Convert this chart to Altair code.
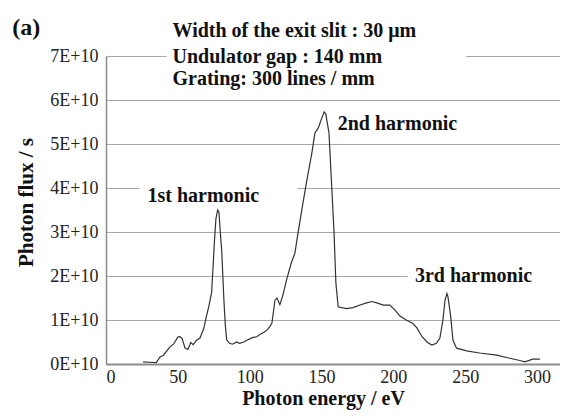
import altair as alt
import pandas as pd

# Photon energy (eV) and photon flux (units of 1E+10 photons/s)
energy = [25.8, 30, 35, 37.6, 40, 44.5, 47, 50, 51.5, 53, 55, 57, 59, 60.7, 63, 65.4,
          68, 70, 71.5, 73.5, 74.5, 75.5, 76.5, 77.7, 78.6, 80, 80.5, 82, 83, 84,
          86, 88, 91, 93, 96, 98, 102, 105, 107, 110, 112, 114, 115.5, 117.6, 119,
          121, 123, 126, 129, 131.5, 133.6, 137, 139.8, 143.3, 145.4, 147.7, 150.3,
          151.9, 153, 155.2, 157, 158.7, 160, 161.6, 164, 167.6, 172, 176.8, 181.4,
          185, 188.5, 193, 197.6, 201, 204.6, 209, 213.6, 216.4, 220, 223.4, 226.8,
          230, 232.4, 234.5, 236, 237.3, 238, 240, 241.5, 244, 251, 260, 272, 281,
          288, 291.6, 297, 302]
flux = [0.05, 0.04, 0.03, 0.16, 0.2, 0.39, 0.45, 0.61, 0.62, 0.58, 0.36, 0.33, 0.49, 0.44,
        0.54, 0.59, 0.8, 1.1, 1.3, 1.62, 2.2, 2.8, 3.3, 3.5, 3.45, 2.8, 2.6, 1.5, 0.9, 0.55,
        0.47, 0.45, 0.5, 0.47, 0.5, 0.54, 0.6, 0.62, 0.67, 0.72, 0.77, 0.85, 0.93, 1.45, 1.5,
        1.35, 1.55, 1.95, 2.3, 2.52, 2.97, 3.64, 4.18, 4.8, 5.25, 5.36, 5.6,
        5.73, 5.68, 5.25, 4.1, 3.0, 1.85, 1.3, 1.28, 1.26, 1.28, 1.34, 1.39,
        1.42, 1.39, 1.34, 1.34, 1.23, 1.09, 1.0, 0.92, 0.82, 0.62, 0.5, 0.43,
        0.47, 0.59, 1.0, 1.46, 1.6, 1.53, 1.06, 0.54, 0.36, 0.3, 0.25, 0.2, 0.13,
        0.08, 0.05, 0.11, 0.11]

x_ticks = [0, 50, 100, 150, 200, 250, 300]
y_ticks = [0, 1, 2, 3, 4, 5, 6, 7]

label_text = ["(a)", "Width of the exit slit : 30 \u03bcm", "Undulator gap : 140 mm",
              "Grating: 300 lines / mm", "1st harmonic", "2nd harmonic", "3rd harmonic"]
label_x = [-65.2, 46.3, 46.3, 46.3, 28.9, 161.3, 215]
label_y = [7.48, 7.43, 6.84, 6.34, 3.68, 5.32, 1.86]
label_size = [24, 20, 20, 20, 20, 20, 20]

# white boxes behind labels (hide grid lines, as in the original)
box_x = [42.2, 23.3, 210]
box_x2 = [250.5, 133.4, 316]
box_y = [6.9, 3.9, 1.9]
box_y2 = [7.1, 4.1, 2.1]

FONT = "Times New Roman, Liberation Serif, serif"

curve = pd.DataFrame({"energy": energy, "flux": flux})
labels = pd.DataFrame({"text": label_text, "x": label_x, "y": label_y, "size": label_size})
boxes = pd.DataFrame({"x": box_x, "x2": box_x2, "y": box_y, "y2": box_y2})

xscale = alt.Scale(domain=[0, 316], nice=False, zero=False)
yscale = alt.Scale(domain=[0, 7], nice=False)

xaxis = alt.Axis(values=x_ticks, grid=False, ticks=False, domainColor="#8c8c8c",
                 domainWidth=2, labelFont=FONT, labelFontSize=18, labelColor="#222",
                 labelPadding=4, title="Photon energy / eV", titleFont=FONT,
                 titleFontSize=20, titleFontWeight="bold", titleColor="#111",
                 titleX=217, titleY=40, titleBaseline="alphabetic", titleAlign="center")
yaxis = alt.Axis(values=y_ticks, grid=True, gridColor="#a8a8a8", gridWidth=1,
                 ticks=False, domainColor="#8c8c8c", domainWidth=1.5,
                 labelExpr="datum.value + 'E+10'", labelFont=FONT, labelFontSize=18,
                 labelColor="#222", labelPadding=8, title="Photon flux / s",
                 titleFont=FONT, titleFontSize=21, titleFontWeight="bold",
                 titleColor="#111", titleAngle=270, titleX=-74, titleY=146,
                 titleBaseline="alphabetic", titleAlign="center")

rects = alt.Chart(boxes).mark_rect(color="white").encode(
    x=alt.X("x:Q", scale=xscale, axis=xaxis),
    x2="x2:Q",
    y=alt.Y("y:Q", scale=yscale, axis=yaxis),
    y2="y2:Q",
)

line = alt.Chart(curve).mark_line(color="#333333", strokeWidth=1.2).encode(
    x=alt.X("energy:Q", scale=xscale),
    y=alt.Y("flux:Q", scale=yscale),
)

texts = alt.Chart(labels).mark_text(
    font=FONT, fontWeight="bold", align="left", baseline="alphabetic", color="#111"
).encode(
    x=alt.X("x:Q", scale=xscale),
    y=alt.Y("y:Q", scale=yscale),
    text="text:N",
    size=alt.Size("size:Q", scale=None, legend=None),
)

chart = alt.layer(rects, line, texts).properties(
    width=454, height=308,
    autosize=alt.AutoSizeParams(type="none"),
    padding={"left": 98, "top": 48, "right": 0, "bottom": 47},
).configure_view(stroke=None)

chart.save("out.html", embed_options={"renderer": "svg", "actions": False})
